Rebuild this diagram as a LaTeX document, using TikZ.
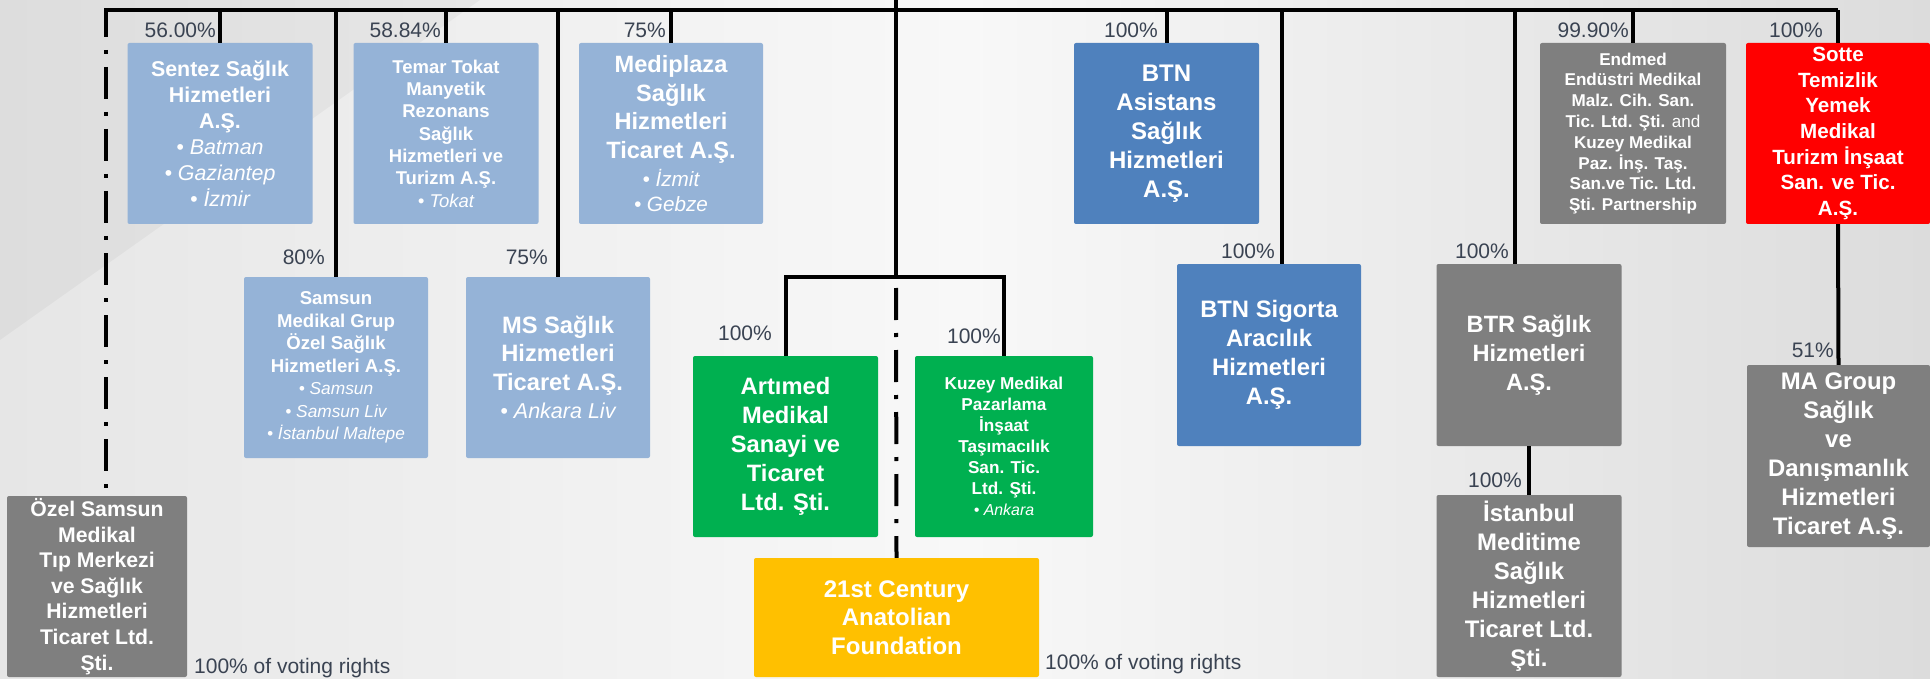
\documentclass[tikz,border=0pt]{standalone}
\usepackage{fontspec}
\setmainfont{Liberation Sans}
\definecolor{lb}{HTML}{95B3D7}
\definecolor{mb}{HTML}{4F81BD}
\definecolor{gr}{HTML}{7F7F7F}
\definecolor{gn}{HTML}{00B050}
\definecolor{gd}{HTML}{FFC000}
\definecolor{rd}{HTML}{FF0000}
\definecolor{lblc}{HTML}{3A4352}
\definecolor{bgL}{HTML}{E6E6E6}
\definecolor{bgM}{HTML}{F8F8F8}
\definecolor{bgR}{HTML}{DCDCDC}
\newcommand{\fsz}[2]{\fontsize{#1}{#2}\selectfont}
\newcommand{\bul}[1]{{\mdseries\itshape • #1}}
\begin{document}
\begin{tikzpicture}[x=1pt,y=-1pt,
  box/.style={rectangle,rounded corners=2pt,inner sep=0pt,align=center,text=white},
  sz/.style 2 args={font=\bfseries\fsz{#1}{#2}},
  wh/.style 2 args={minimum width=#1,minimum height=#2},
  lbl/.style={text=lblc,inner sep=0pt,font=\fsz{21}{25}},
  conn/.style={line width=4pt},
  ddot/.style={line width=4pt,dash pattern=on 32pt off 13pt on 4pt off 13pt}]
\useasboundingbox (0,0) rectangle (1930,679);
\shade[left color=bgL,right color=bgR,middle color=bgM] (0,0) rectangle (1930,679);
\fill[black,opacity=0.035] (0,0) -- (480,0) -- (0,340) -- cycle;

% boxes, top row
\node[box,fill=lb,sz={21.4}{26},wh={185}{181}] (sentez) at (220,133.5) {Sentez Sağlık\\Hizmetleri\\A.Ş.\\\bul{Batman}\\\bul{Gaziantep}\\\bul{İzmir}};
\node[box,fill=lb,sz={18.5}{22.3},wh={185}{181}] (temar) at (446,133.5) {Temar Tokat\\Manyetik\\Rezonans\\Sağlık\\Hizmetleri ve\\Turizm A.Ş.\\\bul{Tokat}};
\node[box,fill=lb,sz={23.6}{28.5},wh={184}{181}] (mediplaza) at (671,133.5) {Mediplaza\\Sağlık\\Hizmetleri\\Ticaret A.Ş.\\{\fsz{20.7}{25}\bul{İzmit}}\\[-4pt]{\fsz{20.7}{25}\bul{Gebze}}};
\node[box,fill=mb,sz={24}{29},wh={185}{181}] (asistans) at (1166.5,133.5) {BTN\\Asistans\\Sağlık\\Hizmetleri\\A.Ş.};
\node[box,fill=gr,sz={17.1}{20.8},wh={186}{181}] (endmed) at (1633,133.5) {Endmed\\Endüstri Medikal\\Malz. Cih. San.\\Tic. Ltd. Şti. {\mdseries and}\\Kuzey Medikal\\Paz. İnş. Taş.\\San.ve Tic. Ltd.\\Şti. Partnership};
\node[box,fill=rd,sz={20.6}{25.7},wh={184}{181}] (sotte) at (1838,133.5) {Sotte\\Temizlik\\Yemek\\Medikal\\Turizm İnşaat\\San. ve Tic.\\A.Ş.};

% second row
\node[box,fill=lb,sz={18.6}{22.5},wh={184}{181}] (samsunmed) at (336,367.5) {Samsun\\Medikal Grup\\Özel Sağlık\\Hizmetleri A.Ş.\\{\fsz{17.3}{22}\bul{Samsun}}\\{\fsz{17.3}{22}\bul{Samsun Liv}}\\{\fsz{17.3}{22}\bul{İstanbul Maltepe}}};
\node[box,fill=lb,sz={23.7}{28.5},wh={184}{181}] (ms) at (558,367.5) {MS Sağlık\\Hizmetleri\\Ticaret A.Ş.\\{\fsz{21.5}{26}\bul{Ankara Liv}}};
\node[box,fill=gn,sz={23.7}{29},wh={185}{181}] (artimed) at (785.5,446.5) {Artımed\\Medikal\\Sanayi ve\\Ticaret\\Ltd. Şti.};
\node[box,fill=gn,sz={17.2}{21},wh={178}{181}] (kuzey) at (1004,446.5) {Kuzey Medikal\\Pazarlama\\İnşaat\\Taşımacılık\\San. Tic.\\Ltd. Şti.\\{\fsz{15.9}{20}\bul{Ankara}}};
\node[box,fill=gd,sz={24}{28.5},wh={285}{119}] (century) at (896.5,617.5) {21st Century\\Anatolian\\Foundation};
\node[box,fill=mb,sz={23.8}{29},wh={184}{182}] (sigorta) at (1269,355) {BTN Sigorta\\Aracılık\\Hizmetleri\\A.Ş.};
\node[box,fill=gr,sz={23.6}{29},wh={185}{182}] (btr) at (1529,355) {BTR Sağlık\\Hizmetleri\\A.Ş.};
\node[box,fill=gr,sz={23.9}{29},wh={185}{182}] (meditime) at (1529,586) {İstanbul\\Meditime\\Sağlık\\Hizmetleri\\Ticaret Ltd.\\Şti.};
\node[box,fill=gr,sz={23.9}{29},wh={183}{182}] (magroup) at (1838.5,456) {MA Group\\Sağlık\\ve\\Danışmanlık\\Hizmetleri\\Ticaret A.Ş.};
\node[box,fill=gr,sz={21.2}{25.6},wh={180}{181}] (ozel) at (97,586.5) {Özel Samsun\\Medikal\\Tıp Merkezi\\ve Sağlık\\Hizmetleri\\Ticaret Ltd.\\Şti.};

% connectors
\coordinate (top) at (896,0);
\coordinate (busL) at (104,10);
\coordinate (busR) at (1838,10);
\coordinate (ddl) at (106,10);
\coordinate (brkR) at (1004,277);
\coordinate (ddtop) at (896,288);
\coordinate (sgx) at (1282,10);
\coordinate (btx) at (1515,10);

\draw[conn] (busL) -- (busR);
\draw[conn] (top) -- (top |- brkR);
\draw[conn] (artimed.north) |- (brkR) -- (kuzey.north);
\draw[ddot,dash phase=5pt] (ddl) -- (ddl |- ozel.north);
\draw[ddot] (ddtop) -- (century.north);
\draw[conn] (sentez.north) -- (sentez.north |- busL);
\draw[conn] (temar.north) -- (temar.north |- busL);
\draw[conn] (mediplaza.north) -- (mediplaza.north |- busL);
\draw[conn] (samsunmed.north) -- (samsunmed.north |- busL);
\draw[conn] (ms.north) -- (ms.north |- busL);
\draw[conn] (asistans.north) -- (asistans.north |- busL);
\draw[conn] (sigorta.north -| sgx) -- (sgx);
\draw[conn] (btr.north -| btx) -- (btx);
\draw[conn] (endmed.north) -- (endmed.north |- busL);
\draw[conn] (sotte.north) -- (busR);
\draw[conn] (btr.south) -- (meditime.north);
\draw[conn] (sotte.south) -- (magroup.north);

% labels
\node[lbl,anchor=east] (p1) at (216,30) {56.00\%};
\node[lbl,anchor=east] (p2) at (441,30) {58.84\%};
\node[lbl,anchor=east] (p3) at (666,30) {75\%};
\node[lbl,anchor=east] (p4) at (1158,30) {100\%};
\node[lbl,anchor=east] (p5) at (1629,30) {99.90\%};
\node[lbl,anchor=east] (p6) at (1823,30) {100\%};
\node[lbl,anchor=east] (p7) at (325,257) {80\%};
\node[lbl,anchor=east] (p8) at (548,257) {75\%};
\node[lbl,anchor=east] (p9) at (772,333) {100\%};
\node[lbl,anchor=east] (p10) at (1001,336) {100\%};
\node[lbl,anchor=east] (p11) at (1275,251) {100\%};
\node[lbl,anchor=east] (p12) at (1509,251) {100\%};
\node[lbl,anchor=east] (p13) at (1522,480) {100\%};
\node[lbl,anchor=east] (p14) at (1834,350) {51\%};
\node[lbl,anchor=west] (v1) at (194,668) {100\% of voting rights};
\node[lbl,anchor=west] (v2) at (1045,664) {100\% of voting rights};
\end{tikzpicture}
\end{document}
